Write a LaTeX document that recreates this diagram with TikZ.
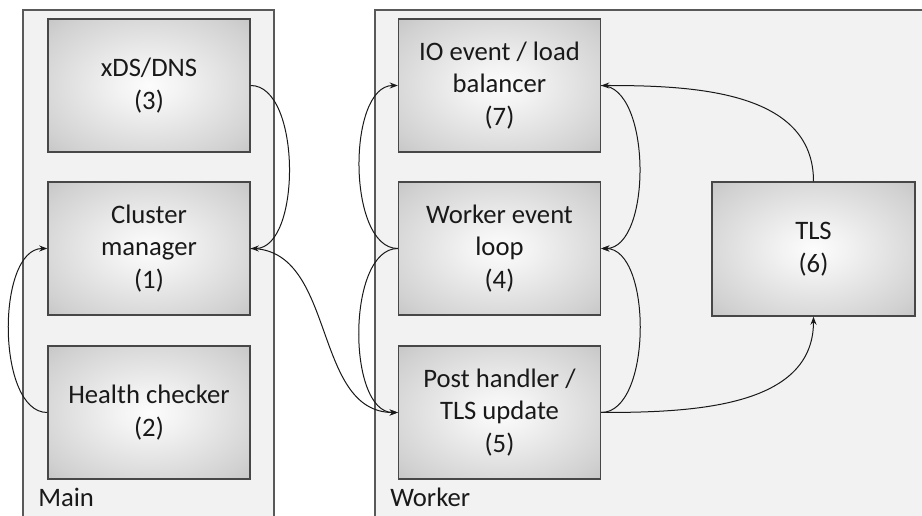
\documentclass[tikz,border=0pt]{standalone}
\usepackage{fontspec}
\setmainfont{Carlito}
\usetikzlibrary{arrows.meta}
\pgfdeclareradialshading{boxshade}{\pgfpoint{0bp}{0bp}}{color(0bp)=(white!99!black); color(8bp)=(white!95!black); color(30bp)=(black!18); color(50bp)=(black!33); color(72bp)=(black!42)}
\definecolor{panel}{HTML}{F2F2F2}
\tikzset{
  box/.style={draw=black!72, line width=1.1pt, shading=boxshade,
    minimum width=151.5pt, minimum height=99.75pt, align=center, inner sep=0pt,
    text=black!90, font=\fontsize{20}{24.5}\selectfont},
  conn/.style={draw=black!90, line width=0.75pt, -{Stealth[length=6pt,width=4.5pt]}},
  panelline/.style={draw=black!65, line width=0.9pt},
  lbl/.style={anchor=base west, inner sep=0pt, text=black!90, font=\fontsize{20}{24.5}\selectfont}
}
\begin{document}
\begin{tikzpicture}[x=0.75pt,y=0.75pt]
\useasboundingbox (0,0) rectangle (922,-516);
\fill[white] (0,0) rectangle (922,-516);
% panels
\fill[panel] (23,-10) rectangle (274,-516);
\draw[panelline] (23,-516) -- (23,-10) -- (274,-10) -- (274,-516);
\fill[panel] (375,-10) rectangle (922,-516);
\draw[panelline] (375,-516) -- (375,-10) -- (922,-10);
\node[lbl] (mainlbl) at (38,-507) {Main};
\node[lbl] (workerlbl) at (390,-507) {Worker};
% boxes
\node[box] (n3) at (149,-85.5) {xDS/DNS\\(3)};
\node[box] (n1) at (149,-248.5) {Cluster\\manager\\(1)};
\node[box] (n2) at (149,-412.5) {Health checker\\(2)};
\node[box] (n7) at (499.5,-85.5) {IO event / load\\balancer\\(7)};
\node[box] (n4) at (499.5,-248.5) {Worker event\\loop\\(4)};
\node[box] (n5) at (499.5,-412.5) {Post handler /\\TLS update\\(5)};
\node[box, minimum width=152.25pt, minimum height=100.5pt] (n6) at (813.5,-249) {TLS\\(6)};
% connectors
\draw[conn] (n3.east) to[out=0,in=0,looseness=0.8] (n1.east);
\draw[conn] (n2.west) to[out=180,in=180,looseness=0.8] (n1.west);
\draw[conn] (n1.east) to[out=0,in=180] (n5.west);
\draw[conn] (n4.west) to[out=180,in=180,looseness=0.8] (n7.west);
\draw[conn] (n4.west) to[out=180,in=180,looseness=0.8] (n5.west);
\draw[conn] (n7.east) to[out=0,in=0,looseness=0.8] (n4.east);
\draw[conn] (n5.east) to[out=0,in=0,looseness=0.8] (n4.east);
\draw[conn] (n6.north) to[out=90,in=0] (n7.east);
\draw[conn] (n5.east) to[out=0,in=-90] (n6.south);
\end{tikzpicture}
\end{document}
